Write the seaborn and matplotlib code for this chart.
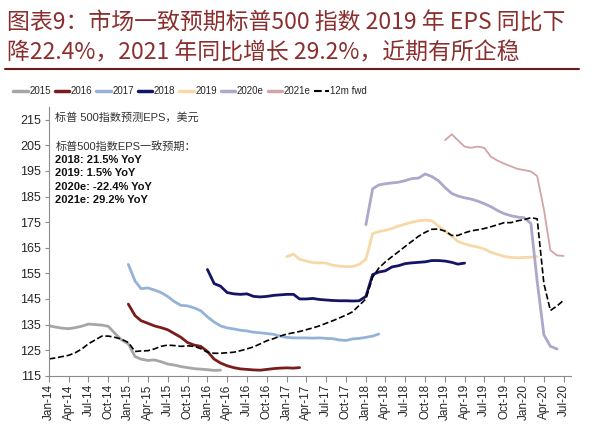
import matplotlib
matplotlib.use("Agg")
import matplotlib.pyplot as plt
import matplotlib.dates as mdates
from matplotlib.lines import Line2D
import seaborn as sns
import numpy as np
import pandas as pd

sns.set_style("white")
plt.rcParams['font.family'] = ['Liberation Sans', 'Noto Sans CJK SC', 'DejaVu Sans']
plt.rcParams['axes.unicode_minus'] = False

# monthly readings, first value = start month
eps_2015_start = "2014-01"
eps_2015 = [134.5, 134.0, 133.6, 133.4, 133.8, 134.4, 135.2, 135.0, 134.8, 134.3,
            131.5, 129.0, 127.5, 122.5, 121.5, 121.0, 121.2, 120.5, 119.6, 119.2,
            118.6, 118.2, 117.8, 117.6, 117.4, 117.1, 117.2]

eps_2016_start = "2015-01"
eps_2016 = [143.0, 138.5, 136.5, 135.5, 134.5, 133.8, 133.0, 131.5, 130.0, 128.0,
            127.0, 126.5, 124.5, 121.5, 120.0, 118.9, 118.2, 117.7, 117.5, 117.3,
            117.2, 117.5, 117.8, 118.0, 118.1, 118.0, 118.2]

eps_2017_start = "2015-01"
eps_2017 = [158.5, 152.0, 149.0, 149.3, 148.5, 147.5, 146.0, 144.0, 142.5, 142.3,
            141.5, 140.4, 138.0, 136.0, 134.5, 133.7, 133.3, 132.8, 132.5, 132.0,
            131.8, 131.5, 131.2, 130.5, 130.0, 129.8, 129.8, 129.8, 129.7, 129.8,
            129.6, 129.5, 129.0, 128.8, 129.4, 129.6, 130.0, 130.5, 131.3]

eps_2018_start = "2016-01"
eps_2018 = [156.5, 151.0, 150.0, 147.5, 147.0, 146.8, 147.0, 146.0, 145.8, 146.0,
            146.4, 146.6, 146.8, 146.8, 145.0, 145.0, 145.2, 144.8, 144.6, 144.4,
            144.3, 144.3, 144.2, 144.3, 146.0, 154.5, 155.5, 156.0, 157.5, 158.0,
            158.8, 159.1, 159.3, 159.5, 160.0, 160.0, 159.8, 159.3, 158.6, 159.0]

eps_2019_start = "2017-01"
eps_2019 = [161.5, 162.5, 160.5, 159.8, 159.2, 159.1, 159.0, 158.2, 157.8, 157.6,
            157.7, 158.5, 160.5, 170.5, 171.3, 171.8, 172.5, 173.5, 174.2, 175.0,
            175.5, 175.8, 175.5, 173.5, 171.5, 169.5, 167.5, 166.5, 165.8, 165.3,
            164.5, 163.2, 162.4, 161.6, 161.2, 161.1, 161.2, 161.3, 161.5]

eps_2020_start = "2018-01"
eps_2020 = [174.0, 188.0, 189.5, 190.0, 190.3, 190.6, 191.2, 192.0, 192.2, 193.8,
            192.8, 191.2, 188.5, 186.2, 185.2, 184.5, 184.0, 183.2, 182.2, 181.0,
            179.5, 178.3, 177.5, 177.0, 176.7, 174.5, 152.0, 131.0, 126.5, 125.5]

eps_2021_start = "2019-01"
eps_2021 = [207.0, 209.3, 207.0, 204.5, 204.0, 204.5, 204.0, 200.5, 199.0, 197.8,
            196.8, 195.8, 195.3, 194.8, 193.0, 180.0, 164.0, 162.0, 161.8]

fwd_start = "2014-01"
fwd_12m = [121.6, 122.0, 122.5, 123.0, 124.0, 125.5, 127.5, 129.0, 130.5, 130.5,
           130.0, 129.3, 128.0, 124.5, 124.7, 124.8, 125.5, 126.5, 127.0, 126.8,
           126.5, 126.7, 126.5, 125.6, 124.2, 123.8, 123.8, 124.0, 124.2, 124.8,
           125.5, 126.3, 127.5, 128.7, 129.5, 130.5, 131.3, 131.8, 132.3, 133.0,
           133.7, 134.5, 135.5, 136.5, 137.6, 138.7, 140.0, 142.5, 145.0, 153.5,
           157.0, 159.5, 161.5, 163.5, 165.5, 167.5, 169.5, 171.0, 172.2, 172.3,
           171.5, 169.8, 169.8, 170.8, 171.6, 172.0, 172.5, 173.2, 174.0, 174.8,
           174.8, 175.5, 176.0, 176.7, 176.3, 151.0, 140.5, 142.3, 144.5]

series = [
    ("2015", eps_2015_start, eps_2015, "#A6A6A6", 2.0, "-"),
    ("2016", eps_2016_start, eps_2016, "#7A1C1C", 2.0, "-"),
    ("2017", eps_2017_start, eps_2017, "#95B3D7", 2.0, "-"),
    ("2018", eps_2018_start, eps_2018, "#141466", 2.0, "-"),
    ("2019", eps_2019_start, eps_2019, "#F7D9A8", 2.0, "-"),
    ("2020e", eps_2020_start, eps_2020, "#ADA7C9", 2.0, "-"),
    ("2021e", eps_2021_start, eps_2021, "#D2A4A6", 1.3, "-"),
    ("12m fwd", fwd_start, fwd_12m, "#000000", 1.2, "--"),
]

fig = plt.figure(figsize=(6, 4.38), dpi=100)
ax = fig.add_axes([0.082, 0.142, 0.870, 0.614])

handles = []
for name, start, vals, color, lw, ls in series:
    dates = pd.date_range(start, periods=len(vals), freq="MS")
    sns.lineplot(x=dates, y=vals, ax=ax, color=color, lw=lw, linestyle=ls)
    handles.append(Line2D([0], [0], color=color, lw=2.5 if ls == "-" else 1.5, linestyle=ls))

ax.set_ylim(115, 220)
ax.set_yticks(np.arange(115, 216, 10))
ax.set_xlim(pd.Timestamp("2014-01-01"), pd.Timestamp("2020-08-05"))
ax.xaxis.set_major_locator(mdates.MonthLocator(bymonth=[1, 4, 7, 10]))
ax.xaxis.set_major_formatter(mdates.DateFormatter("%b-%y"))
ax.set_xlabel("")
ax.set_ylabel("")

for s in ["top", "right"]:
    ax.spines[s].set_visible(False)
for s in ["left", "bottom"]:
    ax.spines[s].set_color("#8C8C8C")
    ax.spines[s].set_linewidth(0.8)
ax.tick_params(axis="x", labelrotation=90, labelsize=8.5, length=4, width=0.8,
               color="#8C8C8C", direction="out", bottom=True, pad=2)
ax.tick_params(axis="y", labelsize=9, length=3, width=0.8, color="#8C8C8C",
               direction="out", left=True, pad=3)

# text box inside the plot
ax.text(0.012, 0.959, "标普 500指数预测EPS，美元", transform=ax.transAxes,
        fontsize=8, color="#333333", va="center")
ax.text(0.012, 0.851, "标普500指数EPS一致预期：", transform=ax.transAxes,
        fontsize=8, color="#333333", va="center")
notes = ["2018: 21.5% YoY", "2019: 1.5% YoY", "2020e: -22.4% YoY", "2021e: 29.2% YoY"]
for i, t in enumerate(notes):
    ax.text(0.012, 0.803 - i * 0.05, t, transform=ax.transAxes, fontsize=8,
            color="#111111", fontweight="bold", va="center")

fig.legend(handles, [s[0] for s in series], loc="center", bbox_to_anchor=(0.317, 0.792),
           ncol=8, frameon=False, fontsize=7, handlelength=1.5, handletextpad=0.15,
           columnspacing=0.4)

# title
title_color = "#8B2E2E"
fig.text(0.012, 0.948, "图表9：市场一致预期标普500 指数 2019 年 EPS 同比下",
         fontsize=16.5, color=title_color, va="center", ha="left", fontweight="light",
         family=["Noto Sans CJK SC", "DejaVu Sans"])
fig.text(0.012, 0.878, "降22.4%，2021 年同比增长 29.2%，近期有所企稳",
         fontsize=16.5, color=title_color, va="center", ha="left", fontweight="light",
         family=["Noto Sans CJK SC", "DejaVu Sans"])
fig.add_artist(Line2D([0.008, 0.965], [0.8425, 0.8425], color="#6B1A1A", lw=1.5))

fig.savefig("out.png", dpi=100)
